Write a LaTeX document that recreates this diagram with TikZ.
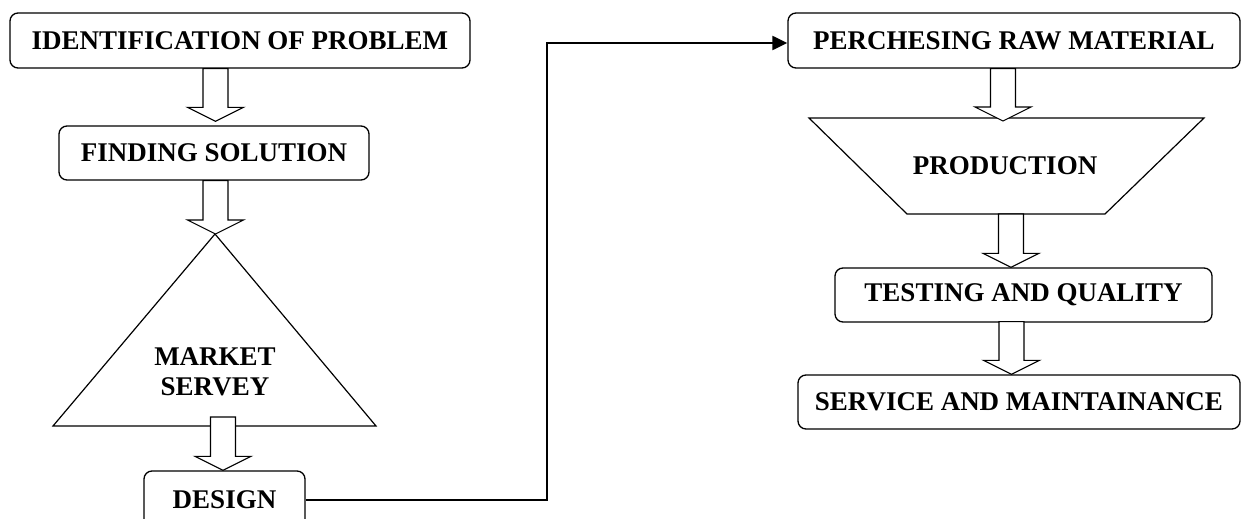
\documentclass[tikz,border=0pt]{standalone}
\usepackage{fontspec}
\setmainfont{Liberation Serif}
\usetikzlibrary{calc,arrows.meta}
\tikzset{
  lbl/.style={font=\fontsize{27}{30}\selectfont\bfseries, inner sep=0pt, align=center},
  rbox/.style={lbl, draw, line width=1.3pt, rounded corners=8pt, anchor=center},
  shapeline/.style={draw, line width=1.2pt, line join=miter},
  harrowline/.style={draw, fill=white, line width=1.1pt, line join=miter},
  conn/.style={draw, line width=2.2pt, -{Triangle[length=15pt,width=14pt]}}
}
\newcommand\harrow[3]{%
  \draw[harrowline] let \p1=#2, \p2=#3 in
    ({#1pt-12.5pt},\y1) -- ({#1pt-12.5pt},{\y2+14pt}) -- ({#1pt-28pt},{\y2+14pt})
    -- (#1pt,\y2) -- ({#1pt+28pt},{\y2+14pt}) -- ({#1pt+12.5pt},{\y2+14pt})
    -- ({#1pt+12.5pt},\y1) -- cycle;}
\begin{document}
\begin{tikzpicture}[x=1pt,y=-1pt]
\useasboundingbox (0,0) rectangle (1242,519);
\clip (0,0) rectangle (1242,519);
\fill[white] (0,0) rectangle (1242,519);
% left column
\node[rbox, minimum width=460pt, minimum height=55pt] (b1) at (240,40.5) {IDENTIFICATION OF PROBLEM};
\node[rbox, minimum width=310pt, minimum height=54pt] (b2) at (214,153) {FINDING SOLUTION};
\coordinate (triA) at (215,234);
\coordinate (triL) at (53,426);
\coordinate (triR) at (376,426);
\draw[shapeline] (triA) -- (triR) -- (triL) -- cycle;
\node[lbl] (ms) at (215,372) {MARKET\\SERVEY};
\node[rbox, minimum width=161pt, minimum height=58pt] (design) at (224.5,500) {DESIGN};
% right column
\node[rbox, minimum width=452pt, minimum height=55pt] (perch) at (1014,40.5) {PERCHESING RAW MATERIAL};
\coordinate (tz1) at (809,118);
\coordinate (tz2) at (1204,118);
\coordinate (tz3) at (1105,214);
\coordinate (tz4) at (907,214);
\draw[shapeline] (tz1) -- (tz2) -- (tz3) -- (tz4) -- cycle;
\node[lbl] (prod) at (1005,166) {PRODUCTION};
\node[rbox, minimum width=377pt, minimum height=54pt] (test) at (1023.5,295) {TESTING AND QUALITY};
\node[rbox, minimum width=442pt, minimum height=54pt] (serv) at (1019,402) {SERVICE AND MAINTAINANCE};
% hollow arrows
\harrow{215.5}{(b1.south)}{($(b2.north)+(0,-4)$)}
\harrow{215.5}{(b2.south)}{(triA)}
\harrow{223}{($(triL)!0.5!(triR)+(0,-9)$)}{(design.north)}
\harrow{1003}{(perch.south)}{($(tz1)!0.5!(tz2)+(0,3)$)}
\harrow{1011}{($(tz4)!0.5!(tz3)$)}{(test.north)}
\harrow{1011.5}{($(test.south)+(0,-1)$)}{(serv.north)}
% connector
\coordinate (turn) at (547,43);
\draw[conn] (design.east) -| (turn) |- ($(perch.west)+(0,2.5)$);
\end{tikzpicture}
\end{document}
